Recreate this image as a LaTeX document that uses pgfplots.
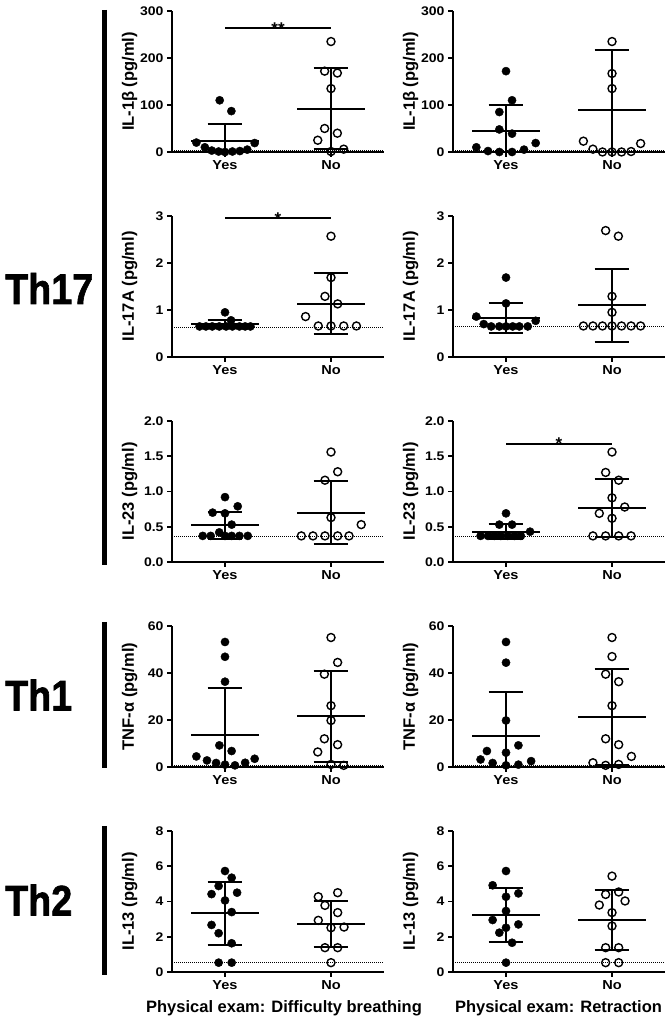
\documentclass[border=0pt]{standalone}
\usepackage{fontspec}
\setmainfont{Liberation Sans}
\newfontfamily\tickfont{Liberation Sans}[FakeStretch=1.12]
\newfontfamily\heavyfont{Liberation Sans}[FakeBold=1.6]
\usepackage{pgfplots}
\pgfplotsset{compat=1.18}
\pgfplotsset{
 panel/.style={
  width=212pt,height=141pt,scale only axis,
  xmin=-0.5,xmax=1.5,ymin=0,enlargelimits=false,
  axis x line=bottom, axis y line=left,
  axis line style={-,line width=2.4pt},
  every outer x axis line/.append style={-},
  every outer y axis line/.append style={-},
  xtick={0,1}, xticklabels={Yes,No},
  major tick length=5pt, tick align=outside,
  tick style={line width=1.6pt,black},
  yticklabel style={font=\tickfont\bfseries\fontsize{12.5}{14}\selectfont},
  xticklabel style={font=\tickfont\bfseries\fontsize{13}{15}\selectfont},
  /pgf/number format/assume math mode=true,
  ylabel style={font=\bfseries\fontsize{16.5}{18}\selectfont, at={(axis description cs:-0.2,0.5)}, anchor=center},
  clip=false,
 },
 stat/.style={black, line width=2pt, forget plot, mark=none},
 dline/.style={black, densely dotted, line width=1pt, forget plot, mark=none},
 fil/.style={only marks, mark=*, mark size=4.1pt, black},
 opn/.style={only marks, mark=o, mark size=4pt, black, mark options={line width=1.4pt}},
}
\tikzset{star/.style={anchor=base, inner sep=0pt, yshift=-6pt, font=\bfseries\fontsize{17}{18}\selectfont}}
\newcommand\statY[3]{%
 \addplot[stat] coordinates {(-0.32,#1) (0.32,#1)};
 \addplot[stat] coordinates {(0,#2) (0,#3)};
 \addplot[stat] coordinates {(-0.165,#3) (0.165,#3)};
 \addplot[stat] coordinates {(-0.165,#2) (0.165,#2)};}
\newcommand\statN[3]{%
 \addplot[stat] coordinates {(0.68,#1) (1.32,#1)};
 \addplot[stat] coordinates {(1,#2) (1,#3)};
 \addplot[stat] coordinates {(0.835,#3) (1.165,#3)};
 \addplot[stat] coordinates {(0.835,#2) (1.165,#2)};}
\newcommand\dl[1]{\addplot[dline] coordinates {(-0.5,#1) (1.5,#1)};}
\begin{document}
\begin{tikzpicture}
\useasboundingbox (0,0) rectangle (670pt,1024pt);
% group labels
\draw[line width=5pt] (104.5pt,1014pt) -- (104.5pt,459pt);
\draw[line width=5pt] (104.5pt,402pt) -- (104.5pt,256pt);
\draw[line width=5pt] (104.5pt,198pt) -- (104.5pt,49pt);
\node[anchor=base west, inner sep=0pt] at (5pt,720pt) {\resizebox{88pt}{31pt}{\heavyfont\bfseries Th17}};
\node[anchor=base west, inner sep=0pt] at (5pt,313.5pt) {\resizebox{67pt}{31pt}{\heavyfont\bfseries Th1}};
\node[anchor=base west, inner sep=0pt] at (5pt,108.5pt) {\resizebox{67pt}{31pt}{\heavyfont\bfseries Th2}};
\node[anchor=base, font=\bfseries\fontsize{16.5}{18}\selectfont] at (284pt,11pt) {Physical exam: Difficulty breathing};
\node[anchor=base, font=\bfseries\fontsize{16.5}{18}\selectfont] at (558.5pt,11pt) {Physical exam: Retraction};

% ---------- Row 1: IL-1beta ----------
\begin{axis}[panel, at={(172pt,872pt)}, anchor=south west, ymax=300, ytick={0,100,200,300}, ylabel={IL-1β (pg/ml)}]
\dl{3}
\statY{24}{0}{60}
\statN{92}{6}{178}
\addplot[stat] coordinates {(0,263) (1,263)};
\node[star] at (axis cs:0.5,263) {**};
\addplot[fil] coordinates {(-0.05,110) (0.06,87) (-0.27,20) (0.28,19) (-0.19,10) (-0.125,3) (-0.06,1) (0,0) (0.07,1) (0.14,2) (0.21,5)};
\addplot[opn] coordinates {(1,235) (0.94,172) (1.06,168) (1,135) (0.94,50) (1.06,40) (0.875,25) (1,1) (1.12,6)};
\end{axis}
\begin{axis}[panel, at={(453pt,872pt)}, anchor=south west, ymax=300, ytick={0,100,200,300}, ylabel={IL-1β (pg/ml)}]
\dl{3}
\statY{44.8}{0}{100}
\statN{89.5}{0}{218}
\addplot[fil] coordinates {(0,172) (0.057,110) (-0.063,85) (-0.063,48) (0.057,39) (0.28,19) (-0.28,10) (-0.17,2) (-0.063,0) (0.057,0) (0.17,5)};
\addplot[opn] coordinates {(1,235) (1,167) (1,135) (0.73,23) (1.27,18) (0.82,6) (0.91,0) (1,0) (1.09,0) (1.18,1)};
\end{axis}

% ---------- Row 2: IL-17A ----------
\begin{axis}[panel, at={(172pt,667pt)}, anchor=south west, ymax=3, ytick={0,1,2,3}, ylabel={IL-17A (pg/ml)}]
\dl{0.62}
\statY{0.70}{0.62}{0.78}
\statN{1.12}{0.48}{1.78}
\addplot[stat] coordinates {(0,2.95) (1,2.95)};
\node[star] at (axis cs:0.5,2.95) {*};
\addplot[fil] coordinates {(0,0.95) (0.057,0.78) (-0.24,0.65) (-0.18,0.65) (-0.12,0.65) (-0.054,0.65) (0.01,0.65) (0.07,0.65) (0.136,0.65) (0.19,0.65) (0.24,0.65)};
\addplot[opn] coordinates {(1,2.57) (1,1.69) (0.943,1.29) (1.063,1.13) (0.76,0.86) (0.88,0.66) (1,0.66) (1.12,0.66) (1.24,0.66)};
\end{axis}
\begin{axis}[panel, at={(453pt,667pt)}, anchor=south west, ymax=3, ytick={0,1,2,3}, ylabel={IL-17A (pg/ml)}]
\dl{0.65}
\statY{0.83}{0.51}{1.14}
\statN{1.10}{0.31}{1.87}
\addplot[fil] coordinates {(0,1.69) (0,1.14) (-0.28,0.86) (0.28,0.77) (-0.21,0.70) (-0.14,0.65) (-0.063,0.65) (0,0.65) (0.063,0.65) (0.126,0.65) (0.205,0.65)};
\addplot[opn] coordinates {(0.94,2.69) (1.06,2.57) (1,1.29) (1,0.95) (0.73,0.66) (0.82,0.66) (0.91,0.66) (1,0.66) (1.09,0.66) (1.18,0.66) (1.27,0.66)};
\end{axis}

% ---------- Row 3: IL-23 ----------
\begin{axis}[panel, at={(172pt,462pt)}, anchor=south west, ymax=2, ytick={0,0.5,1,1.5,2}, ylabel={IL-23 (pg/ml)},
  yticklabel style={/pgf/number format/.cd, fixed, fixed zerofill, precision=1}]
\dl{0.36}
\statY{0.52}{0.33}{0.71}
\statN{0.70}{0.25}{1.15}
\addplot[fil] coordinates {(0,0.92) (0.12,0.79) (-0.117,0.70) (0,0.69) (0.063,0.53) (-0.054,0.42) (-0.21,0.37) (-0.135,0.37) (0,0.37) (0.063,0.37) (0.136,0.37) (0.215,0.37)};
\addplot[opn] coordinates {(1,1.56) (1.063,1.28) (0.943,1.16) (1,0.63) (1.285,0.53) (0.72,0.37) (0.83,0.37) (0.943,0.37) (1.063,0.37) (1.17,0.37)};
\end{axis}
\begin{axis}[panel, at={(453pt,462pt)}, anchor=south west, ymax=2, ytick={0,0.5,1,1.5,2}, ylabel={IL-23 (pg/ml)},
  yticklabel style={/pgf/number format/.cd, fixed, fixed zerofill, precision=1}]
\dl{0.36}
\statY{0.43}{0.33}{0.54}
\statN{0.77}{0.36}{1.18}
\addplot[stat] coordinates {(0,1.68) (1,1.68)};
\node[star] at (axis cs:0.5,1.68) {*};
\addplot[fil] coordinates {(0,0.69) (-0.063,0.53) (0.057,0.53) (0.227,0.43) (-0.24,0.37) (-0.17,0.37) (-0.11,0.37) (-0.05,0.37) (0.016,0.37) (0.08,0.37) (0.14,0.37)};
\addplot[opn] coordinates {(1,1.56) (0.94,1.27) (1.063,1.16) (1,0.91) (1.12,0.78) (0.88,0.69) (1,0.62) (0.82,0.37) (0.94,0.37) (1.063,0.37) (1.18,0.37)};
\end{axis}

% ---------- Row 4: TNF-alpha ----------
\begin{axis}[panel, at={(172pt,257pt)}, anchor=south west, ymax=60, ytick={0,20,40,60}, ylabel={TNF-α (pg/ml)}]
\dl{0.7}
\statY{13.8}{0}{33.6}
\statN{21.5}{2.1}{40.7}
\addplot[fil] coordinates {(0,53.2) (0,46.9) (0,36.3) (-0.053,9.2) (0.0625,6.8) (-0.27,4.5) (-0.17,2.8) (0.28,3.5) (-0.084,1.7) (0,1.0) (0.094,0.7) (0.19,1.8)};
\addplot[opn] coordinates {(1,55.1) (1.0625,44.5) (0.9375,39.5) (1,26.1) (1,19.8) (0.9375,12) (1.0625,9.5) (0.875,6.4) (1,1.1) (1.12,0.7)};
\end{axis}
\begin{axis}[panel, at={(453pt,257pt)}, anchor=south west, ymax=60, ytick={0,20,40,60}, ylabel={TNF-α (pg/ml)}]
\dl{0.7}
\statY{13.4}{0}{31.8}
\statN{21.2}{1.0}{41.5}
\addplot[fil] coordinates {(0,53.2) (0,44.4) (0,19.8) (0.117,9.2) (-0.18,6.8) (0,6.1) (-0.24,3.2) (-0.126,1.7) (0.237,2.5) (0,0.7) (0.117,1.0)};
\addplot[opn] coordinates {(1,55.1) (1,47) (0.94,39.5) (1.063,36.3) (1,26.1) (0.94,12) (1.063,9.5) (1.183,4.5) (0.82,1.8) (0.94,0.7) (1.063,1.1)};
\end{axis}

% ---------- Row 5: IL-13 ----------
\begin{axis}[panel, at={(172pt,52pt)}, anchor=south west, ymax=8, ytick={0,2,4,6,8}, ylabel={IL-13 (pg/ml)}]
\dl{0.55}
\statY{3.33}{1.53}{5.12}
\statN{2.72}{1.42}{4.03}
\addplot[fil] coordinates {(0,5.73) (0.063,5.35) (-0.06,4.88) (-0.127,4.42) (0.114,4.5) (0,4.06) (0.063,3.4) (-0.127,2.67) (-0.06,2.2) (0.063,1.63) (-0.06,0.53) (0.063,0.53)};
\addplot[opn] coordinates {(1.063,4.5) (0.88,4.27) (0.943,3.78) (1.063,3.37) (0.88,2.93) (1,2.51) (1.123,2.55) (0.943,1.38) (1.063,1.38) (1,0.53)};
\end{axis}
\begin{axis}[panel, at={(453pt,52pt)}, anchor=south west, ymax=8, ytick={0,2,4,6,8}, ylabel={IL-13 (pg/ml)}]
\dl{0.55}
\statY{3.23}{1.70}{4.74}
\statN{2.93}{1.23}{4.63}
\addplot[fil] coordinates {(0,5.73) (-0.126,4.92) (0.117,4.46) (0,4.27) (0,3.46) (-0.126,2.95) (0.117,2.7) (0,2.51) (-0.063,2.23) (0.057,1.66) (0,0.53)};
\addplot[opn] coordinates {(1,5.44) (1.063,4.54) (0.94,4.4) (1.123,4.03) (0.88,3.8) (1,3.37) (1,2.61) (0.94,1.38) (1.063,1.38) (0.94,0.53) (1.063,0.53)};
\end{axis}
\end{tikzpicture}
\end{document}
